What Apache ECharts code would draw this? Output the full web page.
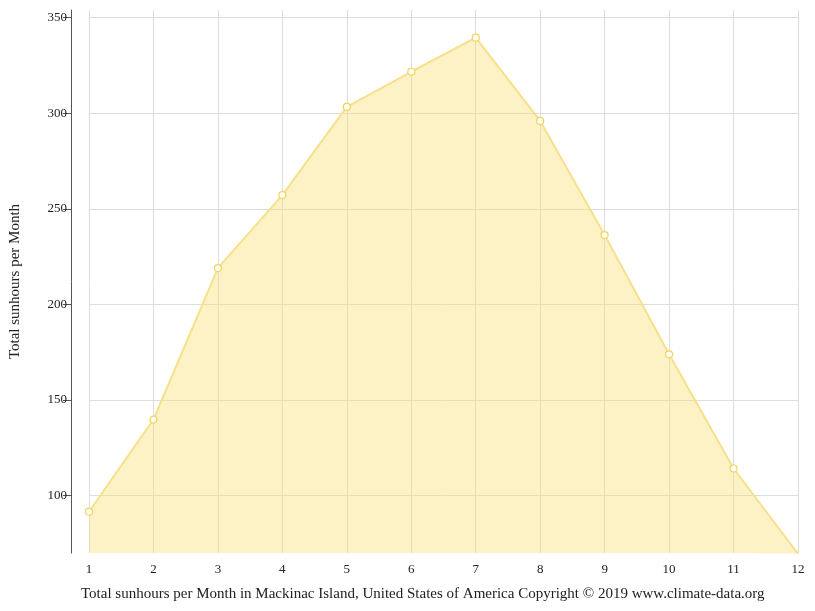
<!DOCTYPE html><html><head><meta charset="utf-8">
<script src="https://cdn.jsdelivr.net/npm/echarts@6/dist/echarts.min.js"></script>
<style>body{margin:0}#c{width:815px;height:611px}</style></head><body><div id="c"></div>
<script>
const months=['1','2','3','4','5','6','7','8','9','10','11','12'];
const sunhours=[91.6,139.8,219,257.2,303.3,321.7,339.5,296,236.3,173.9,114.2,69.6];
const yTicks=[100,150,200,250,300,350];
const F='Liberation Serif';
const ch=echarts.init(document.getElementById('c'));
ch.setOption({
 animation:false,
 grid:{left:89,right:17,top:10,bottom:58},
 title:{text:'Total sunhours per Month in Mackinac Island, United States of America Copyright © 2019 www.climate-data.org',left:76,top:582,textStyle:{fontFamily:F,fontSize:15,fontWeight:'normal',color:'#222'}},
 xAxis:{type:'category',data:months,boundaryGap:false,
  axisLine:{show:false},axisTick:{show:false},
  axisLabel:{fontFamily:F,fontSize:13,color:'#222',margin:10},
  splitLine:{show:true,lineStyle:{color:'#ddd'}}},
 yAxis:{type:'value',min:70,max:354,offset:18,
  name:'Total sunhours per Month',nameLocation:'middle',nameGap:48,nameTextStyle:{fontFamily:F,fontSize:15,color:'#222'},
  axisLine:{show:true,lineStyle:{color:'#555'}},
  axisTick:{show:true,customValues:yTicks,length:8,lineStyle:{color:'#555'}},
  axisLabel:{customValues:yTicks,fontFamily:F,fontSize:13,color:'#222',margin:4},
  splitLine:{show:true,customValues:yTicks,lineStyle:{color:'#ddd'}}},
 series:[{type:'line',data:sunhours,symbol:'circle',symbolSize:7,
  lineStyle:{color:'#f7e08a',width:2},
  itemStyle:{color:'#fff',borderColor:'#f2d35a',borderWidth:1.2},
  areaStyle:{color:'rgba(247,224,120,0.6)',origin:'start'}}]
});
</script></body></html>
